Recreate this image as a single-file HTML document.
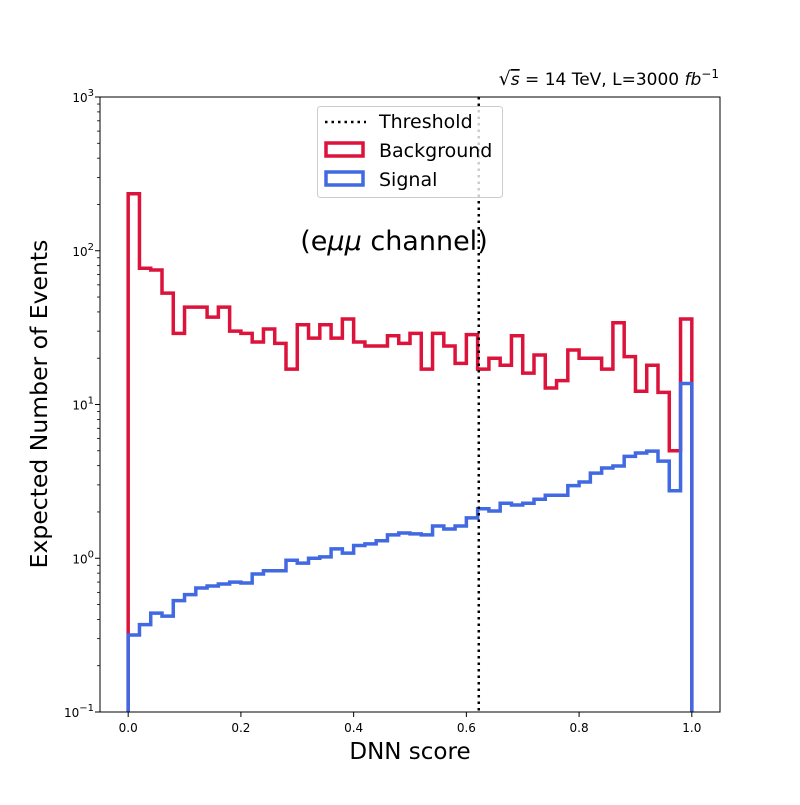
<!DOCTYPE html>
<html><head><meta charset="utf-8"><style>
body{margin:0;background:#fff}
svg text{font-family:"DejaVu Sans","Liberation Sans",sans-serif}
</style></head><body>
<svg id="chart" width="800" height="800" xmlns="http://www.w3.org/2000/svg">
<rect width="800" height="800" fill="#fff"/>
<g id="marks"></g>
<g id="axes"></g>
</svg>
<script>
const binEdgesStart = 0.0;
const binWidth = 0.02;
const background = [235,77,75,53,29,43,43,37,43,30,29,25.5,31,25,17,33,27,33,27,36,25.5,24,24,28,25,29,17,29,24,18.5,28.5,17,20,18,28,16,21,12.8,14.3,22.6,20,20,17,34,20.5,12.2,18,12,5,36];
const signal = [0.317,0.37,0.44,0.42,0.53,0.58,0.64,0.66,0.68,0.70,0.69,0.79,0.83,0.83,0.97,0.93,1.0,1.02,1.15,1.08,1.21,1.24,1.30,1.42,1.46,1.44,1.42,1.62,1.55,1.62,1.83,2.1,2.03,2.28,2.22,2.28,2.42,2.57,2.57,2.97,3.13,3.58,3.86,3.98,4.6,4.84,4.97,4.28,2.75,13.7];
const threshold = 0.622;
const xTicks = [0.0,0.2,0.4,0.6,0.8,1.0];
const xTickLabels = ["0.0","0.2","0.4","0.6","0.8","1.0"];
const yDecades = [-1,0,1,2,3];

const NS="http://www.w3.org/2000/svg";
const L=100,R=720,T=97,B=712;
const xMin=-0.05,xMax=1.05,yMin=-1,yMax=3;
const xs=v=>L+(v-xMin)/(xMax-xMin)*(R-L);
const ys=v=>B-(Math.log10(v)-yMin)/(yMax-yMin)*(B-T);
function el(tag,attrs,parent){const e=document.createElementNS(NS,tag);for(const k in attrs)e.setAttribute(k,attrs[k]);parent.appendChild(e);return e;}
const marks=document.getElementById('marks'),axes=document.getElementById('axes');

function stepPath(vals){
  let d=`M${xs(binEdgesStart)},${B}`;
  vals.forEach((v,i)=>{const x0=xs(binEdgesStart+i*binWidth),x1=xs(binEdgesStart+(i+1)*binWidth),y=ys(v);d+=` L${x0},${y} L${x1},${y}`;});
  d+=` L${xs(binEdgesStart+vals.length*binWidth)},${B}`;
  return d;
}
const bg=el('path',{d:stepPath(background),fill:'none',stroke:'#dc143c','stroke-width':3.5},marks);


const sg=el('path',{d:stepPath(signal),fill:'none',stroke:'#4169e1','stroke-width':3.5},marks);


const th=el('line',{x1:xs(threshold),x2:xs(threshold),y1:T,y2:B,stroke:'#000','stroke-width':2.5,'stroke-dasharray':'2.5 4'},marks);



const fr=el('rect',{x:L,y:T,width:R-L,height:B-T,fill:'none',stroke:'#000','stroke-width':1},axes);


xTicks.forEach((t,i)=>{
  el('line',{x1:xs(t),x2:xs(t),y1:B,y2:B+5,stroke:'#000'},axes);
  const tx=el('text',{x:xs(t),y:B+20,'font-size':12,'text-anchor':'middle'},axes);
  tx.textContent=xTickLabels[i];
  
  
});
yDecades.forEach(dd=>{
  const y=ys(Math.pow(10,dd));
  el('line',{x1:L-5,x2:L,y1:y,y2:y,stroke:'#000'},axes);
  const tx=el('text',{x:L-6,y:y+5,'font-size':12,'text-anchor':'end'},axes);
  tx.innerHTML=`10<tspan dy="-6" font-size="10">${dd}</tspan>`.replace('-1','−1');
  
  
  if(dd<3)for(let m=2;m<10;m++){const ym=ys(m*Math.pow(10,dd));el('line',{x1:L-3,x2:L,y1:ym,y2:ym,stroke:'#000','stroke-width':0.8},axes);}
});
const xl=el('text',{x:410,y:759,'font-size':23,'text-anchor':'middle'},axes);
xl.textContent='DNN score';


const yl=el('text',{x:0,y:0,'font-size':23.5,'text-anchor':'middle',transform:'translate(47,404) rotate(-90)'},axes);
yl.textContent='Expected Number of Events';


const tt=el('text',{x:719,y:85,'font-size':17,'text-anchor':'end'},axes);
tt.innerHTML='<tspan font-size="19">√</tspan><tspan text-decoration="overline" font-style="italic">s</tspan> = 14 TeV, L=3000 <tspan font-style="italic">fb</tspan><tspan dy="-7" font-size="12">−1</tspan>';


const an=el('text',{x:394,y:250,'font-size':27,'text-anchor':'middle'},axes);
an.innerHTML='(e<tspan font-style="italic">μμ</tspan> channel)';



const lg=el('g',{},axes);


el('rect',{x:317.5,y:106.5,width:185,height:91,rx:3,fill:'#fff','fill-opacity':0.8,stroke:'#ccc'},lg);
el('line',{x1:325,x2:366,y1:122,y2:122,stroke:'#000','stroke-width':2.5,'stroke-dasharray':'2.5 4'},lg);
el('rect',{x:326,y:143,width:37,height:13,fill:'none',stroke:'#dc143c','stroke-width':3.5},lg);
el('rect',{x:326,y:172,width:37,height:13,fill:'none',stroke:'#4169e1','stroke-width':3.5},lg);
[['Threshold',128],['Background',157],['Signal',186]].forEach(([s,y])=>{
  const t=el('text',{x:379,y:y,'font-size':19},lg);t.textContent=s;
  
  
});
</script>
</body></html>
